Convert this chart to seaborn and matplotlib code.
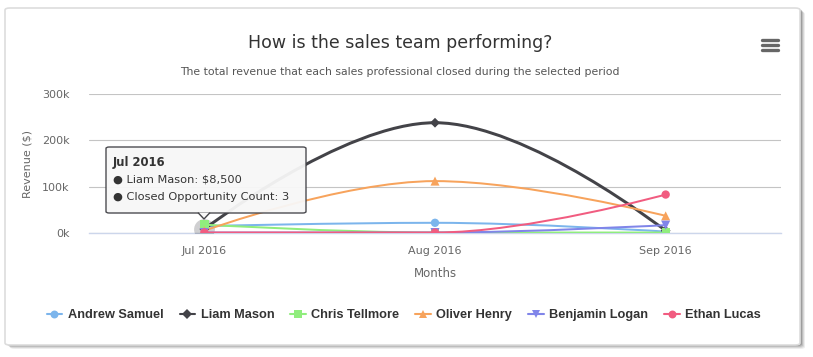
import numpy as np
import pandas as pd
import matplotlib
matplotlib.use("Agg")
import matplotlib.pyplot as plt
import seaborn as sns
from matplotlib.path import Path
from matplotlib.patches import PathPatch, FancyBboxPatch, Polygon
from matplotlib.lines import Line2D
from matplotlib import font_manager

# ---- data ----
months = ["Jul 2016", "Aug 2016", "Sep 2016"]
andrew_samuel = [15000, 22000, 3000]
liam_mason = [8500, 238000, 5000]
chris_tellmore = [18000, 1000, 1000]
oliver_henry = [5000, 112000, 37000]
benjamin_logan = [1000, 1000, 17000]
ethan_lucas = [1000, 1000, 83000]
series_names = ["Andrew Samuel", "Liam Mason", "Chris Tellmore",
                "Oliver Henry", "Benjamin Logan", "Ethan Lucas"]
series_values = [andrew_samuel, liam_mason, chris_tellmore,
                 oliver_henry, benjamin_logan, ethan_lucas]
y_ticks = [0, 100000, 200000, 300000]
y_tick_labels = ["0k", "100k", "200k", "300k"]

colors = ['#7cb5ec', '#434348', '#90ed7d', '#f7a35c', '#8085e9', '#f15c80']
markers = ['o', 'D', 's', '^', 'v', 'o']
msizes = [6.0, 5.0, 6.0, 6.5, 6.5, 6.0]

sns.set_theme(style="white")
plt.rcParams['font.family'] = ['DejaVu Sans']

avail = {f.name for f in font_manager.fontManager.ttflist}
legend_family = 'Liberation Sans Narrow' if 'Liberation Sans Narrow' in avail else 'Liberation Sans'

W, H = 813, 357
fig = plt.figure(figsize=(W / 100, H / 100), dpi=100)
fig.patch.set_facecolor('white')


def fx(px):
    return px / W


def fy(py):
    return 1 - py / H


# card with shadow
for i, a in enumerate([0.10, 0.14, 0.20, 0.30]):
    off = 4 - i
    fig.patches.append(FancyBboxPatch((fx(6 + off), fy(345 + off)), fx(795), (345 - 8) / H,
                                      boxstyle="round,pad=0,rounding_size=0.006",
                                      transform=fig.transFigure, facecolor='#555555',
                                      edgecolor='none', alpha=a, zorder=0))
fig.patches.append(FancyBboxPatch((fx(5), fy(345)), fx(795), (345 - 8) / H,
                                  boxstyle="round,pad=0,rounding_size=0.006",
                                  transform=fig.transFigure, facecolor='white',
                                  edgecolor='#dddddd', linewidth=1.2, zorder=1))

ax = fig.add_axes([fx(89), fy(233), fx(781) - fx(89), (233 - 94) / H])
ax.set_facecolor('none')
ax.set_zorder(2)

rows = []
for name, vals in zip(series_names, series_values):
    for i, v in enumerate(vals):
        rows.append({"series": name, "idx": i, "value": v})
df = pd.DataFrame(rows)


def spline_path(xs, ys):
    sm = 1.5
    den = sm + 1
    n = len(xs)
    left = [None] * n
    right = [None] * n
    for i in range(1, n - 1):
        x, y = xs[i], ys[i]
        lx, ly = xs[i - 1], ys[i - 1]
        nx, ny = xs[i + 1], ys[i + 1]
        lcx = (sm * x + lx) / den
        lcy = (sm * y + ly) / den
        rcx = (sm * x + nx) / den
        rcy = (sm * y + ny) / den
        corr = (rcy - lcy) * (rcx - x) / (rcx - lcx) + y - rcy
        lcy += corr
        rcy += corr
        if lcy > ly and lcy > y:
            lcy = max(ly, y)
            rcy = 2 * y - lcy
        elif lcy < ly and lcy < y:
            lcy = min(ly, y)
            rcy = 2 * y - lcy
        if rcy > ny and rcy > y:
            rcy = max(ny, y)
            lcy = 2 * y - rcy
        elif rcy < ny and rcy < y:
            rcy = min(ny, y)
            lcy = 2 * y - rcy
        left[i] = (lcx, lcy)
        right[i] = (rcx, rcy)
    verts = [(xs[0], ys[0])]
    codes = [Path.MOVETO]
    for i in range(1, n):
        c1 = right[i - 1] if right[i - 1] is not None else (xs[i - 1], ys[i - 1])
        c2 = left[i] if left[i] is not None else (xs[i], ys[i])
        verts += [c1, c2, (xs[i], ys[i])]
        codes += [Path.CURVE4] * 3
    return Path(verts, codes)


xs = list(range(len(months)))
for k, (name, vals) in enumerate(zip(series_names, series_values)):
    lw = 3.0 if name == "Liam Mason" else 2.0
    patch = PathPatch(spline_path(xs, vals), facecolor='none', edgecolor=colors[k],
                      linewidth=lw * 0.72, zorder=3 + k, capstyle='round', joinstyle='round')
    ax.add_patch(patch)

# hover halo on Liam Mason, Jul
ax.plot([0], [liam_mason[0]], marker='o', markersize=15, color='#434348', alpha=0.25,
        linestyle='none', zorder=3, markeredgewidth=0)

for k, name in enumerate(series_names):
    sub = df[df.series == name]
    sns.scatterplot(data=sub, x="idx", y="value", ax=ax, color=colors[k], marker=markers[k],
                    s=msizes[k] ** 2, edgecolor='none', linewidth=0, zorder=10 + k, legend=False)

ax.set_xlim(-0.5, 2.5)
ax.set_ylim(0, 300000)
ax.set_xticks(xs)
ax.set_xticklabels(months)
ax.set_xticks([-0.5, 0.5, 1.5, 2.5], minor=True)
ax.set_yticks(y_ticks)
ax.set_yticklabels(y_tick_labels)
ax.tick_params(axis='x', which='major', length=0, pad=9, labelsize=8, labelcolor='#666666')
ax.tick_params(axis='x', which='minor', length=7, width=1, color='#ccd6eb', direction='out')
ax.tick_params(axis='y', length=0, pad=14, labelsize=8, labelcolor='#666666')
ax.grid(axis='y', color='#c4c4c4', linewidth=0.8)
ax.grid(axis='x', visible=False)
for s in ['top', 'right', 'left']:
    ax.spines[s].set_visible(False)
ax.spines['bottom'].set_color('#ccd6eb')
ax.spines['bottom'].set_linewidth(1)
ax.set_xlabel("Months", fontsize=8.5, color='#666666', labelpad=8)
ax.set_ylabel("Revenue ($)", fontsize=8, color='#666666')
ax.yaxis.set_label_coords((32 - 89) / 692, 0.5)

# title and subtitle
fig.text(fx(400), fy(43), "How is the sales team performing?", ha='center', va='center',
         fontsize=12.5, color='#333333', zorder=5)
fig.text(fx(400), fy(72), "The total revenue that each sales professional closed during the selected period",
         ha='center', va='center', fontsize=7.8, color='#555555', zorder=5)

# hamburger menu
for yy in [40, 45, 50]:
    fig.lines.append(Line2D([fx(762), fx(778)], [fy(yy), fy(yy)], transform=fig.transFigure,
                            color='#666666', linewidth=2.4, zorder=5))

# legend
handles = [Line2D([0], [0], color=colors[k], marker=markers[k], markersize=msizes[k] * 0.95,
                  linewidth=1.5, markeredgewidth=0) for k in range(len(series_names))]
leg = fig.legend(handles, series_names, loc='center', bbox_to_anchor=(fx(404), fy(315)),
                 ncol=6, frameon=False, handlelength=1.2, handletextpad=0.45,
                 columnspacing=1.25, prop={'weight': 'bold', 'size': 9.2, 'family': legend_family})
for t in leg.get_texts():
    t.set_color('#333333')
leg.set_zorder(5)

# tooltip
tip = FancyBboxPatch((fx(106), fy(213)), fx(306) - fx(106), (213 - 147) / H,
                     boxstyle="round,pad=0,rounding_size=0.004", transform=fig.transFigure,
                     facecolor='#f7f7f7', edgecolor='#434348', linewidth=1.0, alpha=0.95, zorder=20)
fig.patches.append(tip)
fig.patches.append(Polygon([(fx(198), fy(212.6)), (fx(204), fy(219)), (fx(210), fy(212.6))],
                           closed=False, transform=fig.transFigure, facecolor='#f7f7f7',
                           edgecolor='#434348', linewidth=1.0, zorder=21))
fig.text(fx(113), fy(163), "Jul 2016", fontsize=8.4, fontweight='bold', color='#333333',
         va='center', ha='left', zorder=22)
fig.text(fx(113), fy(180), "\u25cf Liam Mason: $8,500", fontsize=8.2, color='#333333',
         va='center', ha='left', zorder=22)
fig.text(fx(113), fy(197), "\u25cf Closed Opportunity Count: 3", fontsize=8.2, color='#333333',
         va='center', ha='left', zorder=22)

fig.savefig("out.png", dpi=100, facecolor='white')
